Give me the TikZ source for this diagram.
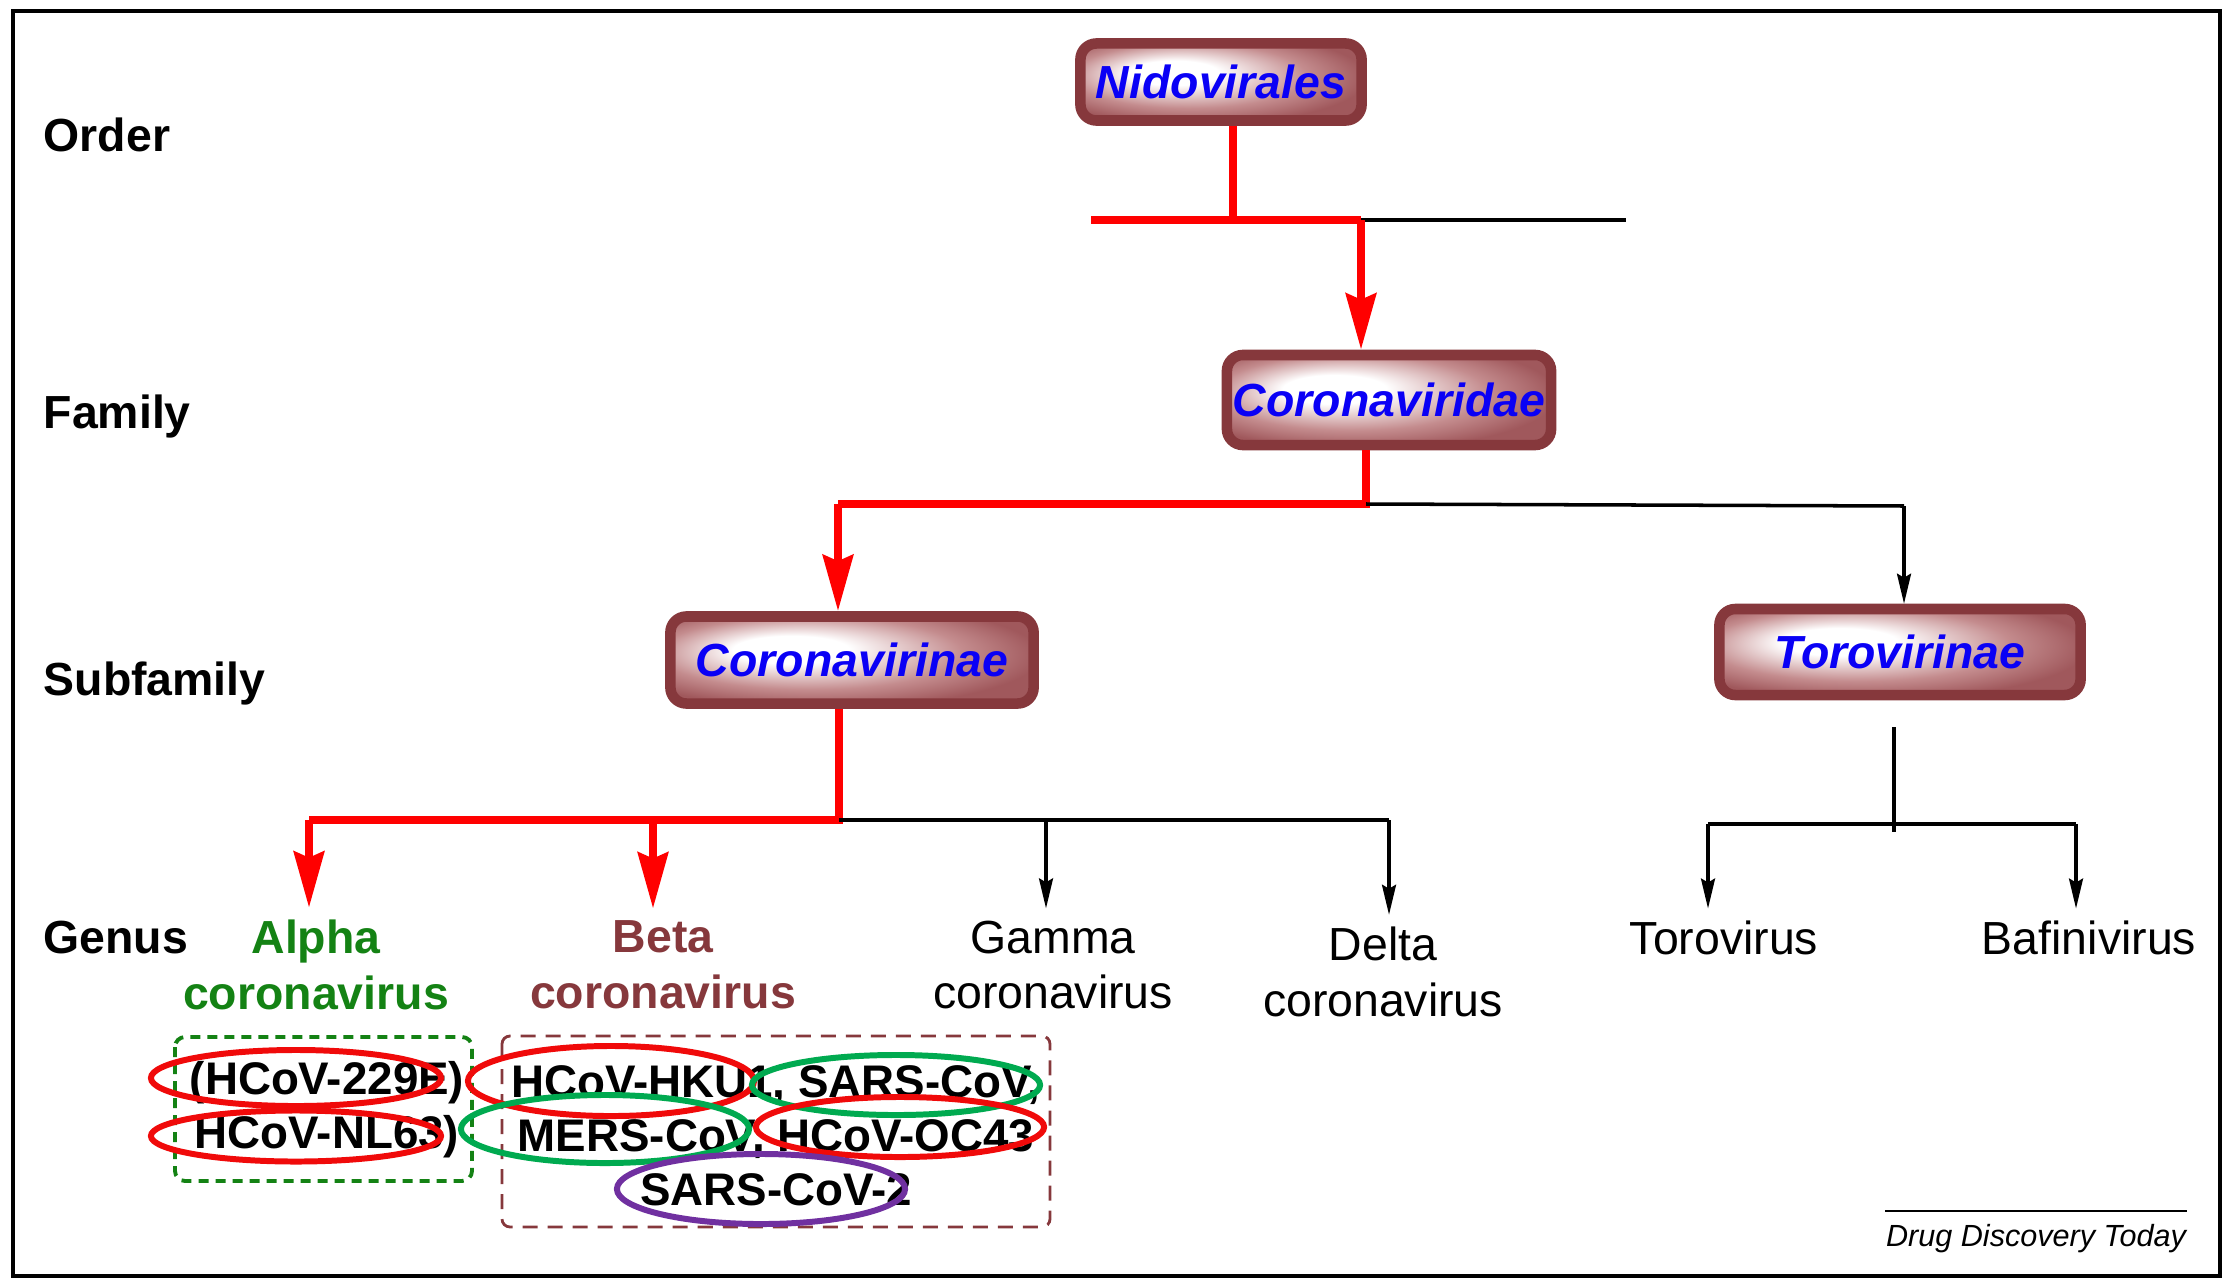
\documentclass[tikz,border=0pt]{standalone}
\usepackage{fontspec}
\setmainfont{Liberation Sans}
\usepackage{tikz}
\usetikzlibrary{shapes,arrows.meta,positioning,calc}
\usepackage{xcolor}
\definecolor{rankedge}{RGB}{134,56,60}
\definecolor{rankrose}{RGB}{196,140,142}
\definecolor{rankdeep}{RGB}{160,88,92}
\definecolor{taxonblue}{RGB}{10,0,245}
\definecolor{alphagreen}{RGB}{20,130,20}
\definecolor{ringred}{RGB}{240,10,10}
\definecolor{ringgreen}{RGB}{0,170,80}
\definecolor{ringpurple}{RGB}{112,48,160}
\pgfdeclareradialshading{boxglow}{\pgfpoint{-10bp}{7bp}}{color(0bp)=(white); color(8bp)=(white); color(21bp)=(rankrose); color(30bp)=(rankdeep); color(50bp)=(rankdeep)}

\tikzset{
  taxonbox/.style={draw=rankedge, line width=3pt, rounded corners=0.16cm, shading=boxglow, shade,
    font=\fontsize{13.2}{15}\selectfont\bfseries\itshape, text=taxonblue, inner sep=0pt},
  ranklabel/.style={anchor=west, inner sep=0pt, font=\fontsize{13.2}{15}\selectfont\bfseries},
  genus/.style={align=center, font=\fontsize{13.2}{15.8}\selectfont},
  strains/.style={align=center, inner sep=0pt, font=\fontsize{13}{15.3}\selectfont\bfseries},
  ring/.style={ellipse, line width=1.7pt, inner sep=0pt},
  redline/.style={red, line width=2.4pt},
  redarrow/.style={red, line width=2.4pt, -{Stealth[length=0.56cm,width=0.3cm,inset=0.06cm]}},
  blackline/.style={black, line width=1pt},
  blackarrow/.style={black, line width=0.9pt, -{Stealth[length=0.3cm,width=0.14cm,inset=0.04cm]}}
}

\begin{document}
\begin{tikzpicture}[x=0.01cm, y=-0.01cm]
                \useasboundingbox (0,0) rectangle (2228,1282);
                % Frame
                \draw[line width=1pt] (13,11) rectangle (2220,1276);

                % Rank labels
                \node[ranklabel] (order) at (43,135) {Order};
                \node[ranklabel] (family) at (43,416) {Family};
                \node[ranklabel] (subfamily) at (43,683) {Subfamily};
                \node[ranklabel] (genuslbl) at (43,938) {Genus};

                % Taxon boxes
                \node[taxonbox, minimum width=2.81cm, minimum height=0.77cm] (nido) at (1221,82) {Nidovirales};
                \node[taxonbox, minimum width=3.24cm, minimum height=0.9cm] (viridae) at (1389,400) {Coronaviridae};
                \node[taxonbox, minimum width=3.63cm, minimum height=0.87cm] (virinae) at (852,660) {Coronavirinae};
                \node[taxonbox, minimum width=3.61cm, minimum height=0.86cm] (torinae) at (1900,652) {Torovirinae};

                % Genera
                \node[genus, font=\fontsize{13.2}{15.8}\selectfont\bfseries, text=alphagreen] (alpha) at (316,965) {Alpha\\coronavirus};
                \node[genus, font=\fontsize{13.2}{15.8}\selectfont\bfseries, text=rankedge] (beta) at (663,965) {Beta\\coronavirus};
                \node[genus] (gamma) at (1053,965) {Gamma\\coronavirus};
                \node[genus] (delta) at (1383,972) {Delta\\coronavirus};
                \node[genus] (torovirus) at (1724,938) {Torovirus};
                \node[genus] (bafinivirus) at (2089,938) {Bafinivirus};

                % Order -> Family
                \coordinate (ordfork) at (1233,220);
                \coordinate (ordleft) at (1091,220);
                \coordinate (ordbend) at (1361,220);
                \coordinate (ordright) at (1626,220);
                \draw[redline] (nido.south -| ordfork) -- (ordfork);
                \draw[redline] (ordleft) -- (ordbend);
                \draw[blackline] (ordbend) -- (ordright);
                \draw[redarrow] (ordbend) -- (ordbend |- viridae.north);

                % Family -> Subfamily
                \coordinate (famfork) at (1366,504);
                \coordinate (famleft) at (838,504);
                \coordinate (famright) at (1904,506);
                \draw[redline] (viridae.south -| famfork) -- (famfork) -- (famleft);
                \draw[redarrow] (famleft) -- (famleft |- virinae.north);
                \draw[blackline] (famfork) -- (famright);
                \draw[blackarrow] (famright) -- (famright |- torinae.north);

                % Subfamily -> Genus
                \coordinate (subfork) at (839,820);
                \coordinate (alphatop) at (309,820);
                \coordinate (betatop) at (653,820);
                \coordinate (gammatop) at (1046,820);
                \coordinate (deltatop) at (1389,820);
                \draw[redline] (virinae.south -| subfork) -- (subfork) -- (alphatop);
                \draw[redarrow] (alphatop) -- (alphatop |- alpha.north);
                \draw[redarrow] (betatop) -- (betatop |- beta.north);
                \draw[blackline] (subfork) -- (deltatop);
                \draw[blackarrow] (gammatop) -- (gammatop |- gamma.north);
                \draw[blackarrow] (deltatop) -- (deltatop |- delta.north);

                % Torovirinae branch
                \coordinate (torostem) at (1894,727);
                \coordinate (torostemend) at (1894,832);
                \coordinate (torotop) at (1708,824);
                \coordinate (bafitop) at (2076,824);
                \draw[blackline] (torostem) -- (torostemend);
                \draw[blackline] (torotop) -- (bafitop);
                \draw[blackarrow] (torotop) -- (torotop |- torovirus.north);
                \draw[blackarrow] (bafitop) -- (bafitop |- bafinivirus.north);

                % Human strains
                \draw[alphagreen, line width=1.1pt, dash pattern=on 0.1cm off 0.07cm, rounded corners=0.1cm] (175,1037) rectangle (472,1181);
                \draw[rankedge, line width=0.8pt, dash pattern=on 0.15cm off 0.1cm, rounded corners=0.08cm] (502,1036) rectangle (1050,1227);
                \node[strains] (alphalist) at (327,1110) {(HCoV-229E)\\HCoV-NL63)};
                \node[strains] (betalist) at (776,1136) {HCoV-HKU1, SARS-CoV,\\MERS-CoV, HCoV-OC43\\SARS-CoV-2};

                % Rings
                \node[ring, draw=ringred, minimum width=2.9cm, minimum height=0.56cm] (r229e) at (296,1078) {};
                \node[ring, draw=ringred, minimum width=2.9cm, minimum height=0.51cm] (rnl63) at (296,1136) {};
                \node[ring, draw=ringred, minimum width=2.86cm, minimum height=0.7cm] (rhku1) at (611,1081) {};
                \node[ring, draw=ringgreen, minimum width=2.88cm, minimum height=0.6cm] (rsars) at (896,1085) {};
                \node[ring, draw=ringgreen, minimum width=2.88cm, minimum height=0.68cm] (rmers) at (605,1129) {};
                \node[ring, draw=ringred, minimum width=2.88cm, minimum height=0.6cm] (roc43) at (900,1127) {};
                \node[ring, draw=ringpurple, minimum width=2.88cm, minimum height=0.7cm] (rsars2) at (761,1189) {};

                % Source
                \node[anchor=base, inner xsep=0pt, inner ysep=3.5pt, font=\fontsize{8.7}{10}\selectfont\itshape] (journal) at (2036,1246) {Drug Discovery Today};
                \draw[line width=0.5pt] (journal.north west) -- (journal.north east);
            \end{tikzpicture}
\end{document}
